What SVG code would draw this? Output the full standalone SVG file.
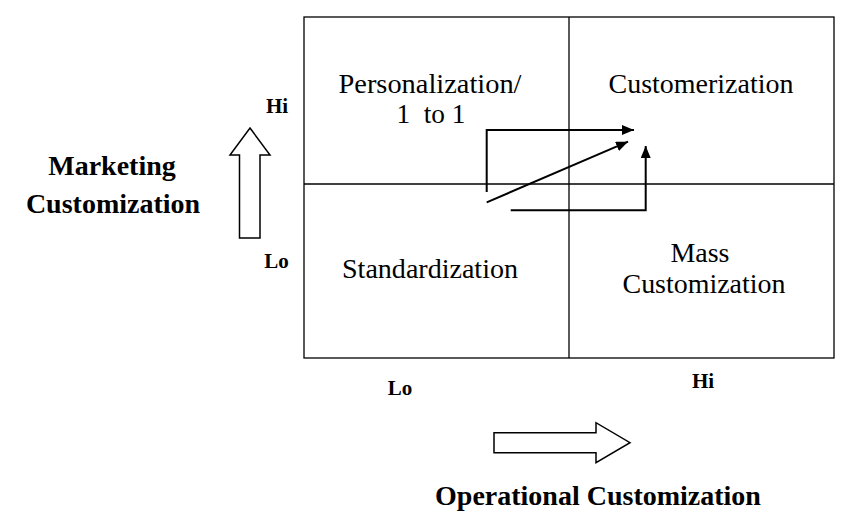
<svg xmlns="http://www.w3.org/2000/svg" width="862" height="522" viewBox="0 0 862 522">
<defs>
<marker id="ah" viewBox="0 0 12 10" refX="12" refY="5" markerWidth="12" markerHeight="10" markerUnits="userSpaceOnUse" orient="auto">
<path d="M0,0 L12,5 L0,10 Z" fill="#000"/>
</marker>
<style>
text{font-family:"Liberation Serif","DejaVu Serif",serif;fill:#000;text-anchor:middle}
.t{font-size:27px;font-weight:normal}
.b{font-weight:bold}
.ln{stroke:#000;stroke-width:1.3;fill:none}
.ar{stroke:#000;stroke-width:2;fill:none}
.blk{stroke:#000;stroke-width:1.5;fill:#fff}
</style>
</defs>
<rect width="862" height="522" fill="#fff"/>
<g id="grid">
<rect x="304" y="17" width="530" height="341" class="ln" stroke-width="1.6"/>
<line x1="569" y1="17" x2="569" y2="358" class="ln"/>
<line x1="304" y1="184" x2="834" y2="184" class="ln"/>
</g>
<g id="personalization"><text class="t" x="430" y="93" textLength="183" lengthAdjust="spacingAndGlyphs">Personalization/</text><text class="t" x="431" y="123" textLength="69" lengthAdjust="spacingAndGlyphs" xml:space="preserve">1  to 1</text></g>
<g id="customerization"><text class="t" x="701" y="93" textLength="185" lengthAdjust="spacingAndGlyphs">Customerization</text></g>
<g id="standardization"><text class="t" x="430" y="278" textLength="176" lengthAdjust="spacingAndGlyphs">Standardization</text></g>
<g id="mass"><text class="t" x="700" y="262" textLength="59" lengthAdjust="spacingAndGlyphs">Mass</text><text class="t" x="704" y="293" textLength="163" lengthAdjust="spacingAndGlyphs">Customization</text></g>
<g id="ylabel"><text class="b" font-size="28" x="112" y="175">Marketing</text><text class="b" font-size="28" x="113" y="213">Customization</text></g>
<g id="yarrow"><path class="blk" d="M250,128 L270,155 L260,155 L260,238 L239.5,238 L239.5,155 L230,155 Z"/>
<text class="b" font-size="21" x="277" y="113">Hi</text><text class="b" font-size="21" x="276.5" y="268">Lo</text></g>
<g id="xaxis"><text class="b" font-size="21" x="400" y="395">Lo</text><text class="b" font-size="21" x="703" y="388">Hi</text>
<path class="blk" d="M494,432.7 L596,432.7 L596,422.7 L630,442.7 L596,462.7 L596,452.7 L494,452.7 Z"/>
<text class="b" font-size="28" x="598" y="505">Operational Customization</text></g>
<g id="connectors">
<path class="ar" d="M486.7,192 L486.7,130 L634,130" marker-end="url(#ah)"/>
<path class="ar" d="M486.7,202.3 L628,141.7" marker-end="url(#ah)"/>
<path class="ar" d="M510.7,210.3 L645.7,210.3 L645.7,146" marker-end="url(#ah)"/>
</g>
</svg>
